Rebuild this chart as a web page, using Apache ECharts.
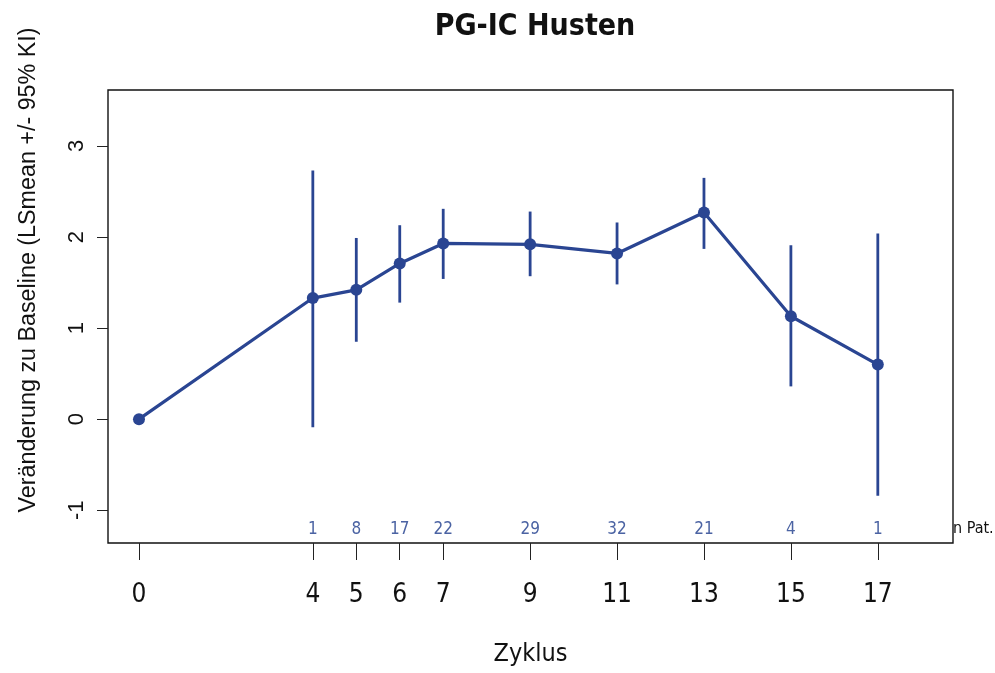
<!DOCTYPE html>
<html>
<head>
<meta charset="utf-8">
<title>PG-IC Husten</title>
<script src="https://cdn.jsdelivr.net/npm/echarts@6/dist/echarts.min.js"></script>
<style>
  html, body { margin: 0; padding: 0; background: #fff; }
  #chart { width: 995px; height: 673px; }
</style>
</head>
<body>
<div id="chart"></div>
<script>
// Zyklus (cycle) and LSmean change from baseline with 95% CI
const cycles = [0, 4, 5, 6, 7, 9, 11, 13, 15, 17];
const lsmean = [0, 1.33, 1.42, 1.71, 1.93, 1.92, 1.82, 2.27, 1.13, 0.60];
const ciLower = [null, -0.09, 0.85, 1.28, 1.54, 1.57, 1.48, 1.87, 0.36, -0.84];
const ciUpper = [null, 2.73, 1.99, 2.13, 2.31, 2.28, 2.16, 2.65, 1.91, 2.04];
const nPatients = [null, 1, 8, 17, 22, 29, 32, 21, 4, 1];
const yTicks = [-1, 0, 1, 2, 3];

const BLUE = '#2a4592';
const NARROW = '"Liberation Sans Narrow", "Arial Narrow", "DejaVu Sans Condensed", sans-serif';
const REGULAR = '"Liberation Sans", Arial, sans-serif';

const nByCycle = {};
cycles.forEach((c, i) => { if (nPatients[i] != null) nByCycle[c] = nPatients[i]; });

const ciData = cycles
  .map((c, i) => [c, ciLower[i], ciUpper[i]])
  .filter(d => d[1] != null);

const chart = echarts.init(document.getElementById('chart'), null, { renderer: 'canvas' });

chart.setOption({
  animation: false,
  backgroundColor: '#fff',
  title: {
    text: 'PG-IC Husten',
    left: 530,
    top: 7,
    textAlign: 'center',
    textStyle: { fontFamily: NARROW, fontWeight: 'bold', fontSize: 30, color: '#111' }
  },
  grid: {
    left: 108, top: 90, right: 42, bottom: 130,
    show: true, borderColor: '#111', borderWidth: 1.4, backgroundColor: 'transparent'
  },
  xAxis: [
    {
      type: 'value', min: -0.713, max: 18.73,
      name: 'Zyklus', nameLocation: 'middle', nameGap: 99,
      nameTextStyle: { fontFamily: NARROW, fontSize: 25, color: '#111' },
      axisLine: { show: false, onZero: false },
      splitLine: { show: false },
      axisTick: { show: true, customValues: cycles, length: 17, lineStyle: { color: '#222', width: 1 } },
      axisLabel: { customValues: cycles, margin: 39, fontFamily: NARROW, fontSize: 26, color: '#111' }
    },
    {
      // patient counts written just inside the bottom of the plot box
      type: 'value', min: -0.713, max: 18.73, position: 'bottom',
      axisLine: { show: false, onZero: false }, splitLine: { show: false }, axisTick: { show: false },
      axisLabel: {
        inside: true, margin: 5,
        customValues: cycles.filter(c => nByCycle[c] != null),
        formatter: v => String(nByCycle[v]),
        fontFamily: NARROW, fontSize: 17, color: '#4b63a3'
      }
    }
  ],
  yAxis: {
    type: 'value', min: -1.36, max: 3.615,
    axisLine: { show: false, onZero: false },
    splitLine: { show: false },
    axisTick: { show: true, customValues: yTicks, length: 11, lineStyle: { color: '#222', width: 1 } },
    axisLabel: { customValues: yTicks, rotate: 90, margin: 20, fontFamily: REGULAR, fontSize: 22, color: '#111' }
  },
  graphic: [
    {
      type: 'text', x: 29, y: 270, rotation: Math.PI / 2,
      style: {
        text: 'Veränderung zu Baseline (LSmean +/- 95% KI)',
        fontFamily: REGULAR, fontSize: 23.3, fill: '#111',
        align: 'center', verticalAlign: 'middle'
      }
    },
    {
      type: 'text', x: 953, y: 529,
      style: {
        text: 'n Pat.', fontFamily: NARROW, fontSize: 16, fill: '#111',
        align: 'left', verticalAlign: 'middle'
      }
    }
  ],
  series: [
    {
      type: 'custom',
      name: '95% KI',
      xAxisIndex: 0,
      data: ciData,
      z: 2,
      renderItem: (params, api) => {
        const lo = api.coord([api.value(0), api.value(1)]);
        const hi = api.coord([api.value(0), api.value(2)]);
        return {
          type: 'line',
          shape: { x1: lo[0], y1: lo[1], x2: hi[0], y2: hi[1] },
          style: { stroke: BLUE, lineWidth: 2.8 }
        };
      }
    },
    {
      type: 'line',
      name: 'LSmean',
      xAxisIndex: 0,
      data: cycles.map((c, i) => [c, lsmean[i]]),
      z: 3,
      symbol: 'circle',
      symbolSize: 12,
      lineStyle: { color: BLUE, width: 3.2 },
      itemStyle: { color: BLUE }
    }
  ]
});
</script>
</body>
</html>
